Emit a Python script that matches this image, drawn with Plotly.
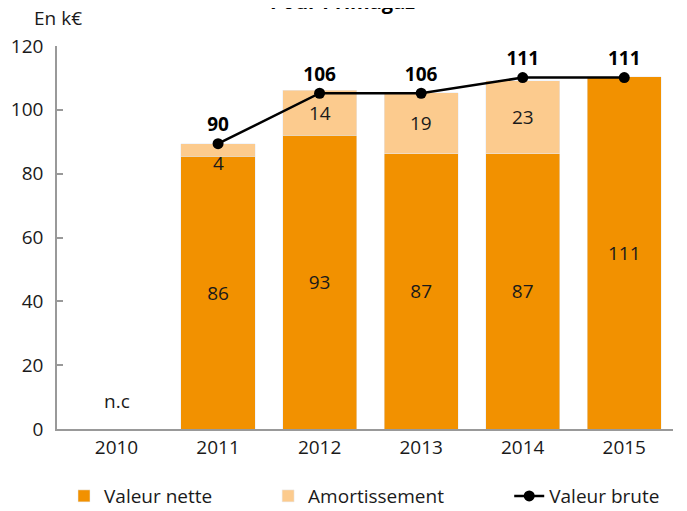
import plotly.graph_objects as go

years = ["2010", "2011", "2012", "2013", "2014", "2015"]
valeur_nette = [None, 85.4, 92.1, 86.2, 86.2, 110.4]
amortissement = [None, 3.9, 14.0, 19.2, 22.9, None]
valeur_brute = [None, 89.4, 105.2, 105.2, 110.1, 110.1]
nette_labels = ["", "86", "93", "87", "87", "111"]
amort_labels = ["", "4", "14", "19", "23", ""]
brute_labels = ["", "90", "106", "106", "111", "111"]
nc_label = "n.c"

FONT = "Open Sans"
FS = 19
ORANGE = "#F29100"
PEACH = "#FCCB8E"
TXT = "#1a1a1a"

fig = go.Figure()
fig.add_trace(go.Bar(
    x=years, y=valeur_nette, name="Valeur nette", marker_color=ORANGE,
    width=0.73, text=nette_labels, textposition="inside", insidetextanchor="middle",
    textfont=dict(family=FONT, size=FS, color=TXT), constraintext="none",
    hoverinfo="skip", legend="legend",
))
fig.add_trace(go.Bar(
    x=years, y=amortissement, name="Amortissement", marker_color=PEACH,
    width=0.73, hoverinfo="skip", legend="legend2",
))
fig.add_trace(go.Scatter(
    x=years, y=valeur_brute, name="Valeur brute", mode="lines+markers+text",
    line=dict(color="black", width=2.5), marker=dict(color="black", size=11),
    text=brute_labels, textposition="top center",
    textfont=dict(family=FONT, size=FS, color="black", weight="bold"),
    hoverinfo="skip", legend="legend3",
))

# amortissement labels, centred on their segments
for i, (n, a, lab) in enumerate(zip(valeur_nette, amortissement, amort_labels)):
    if a is None or not lab:
        continue
    shift = -13 if a < 8 else 0
    fig.add_annotation(x=i, y=n + a / 2, xref="x", yref="y", text=lab, showarrow=False,
                       yshift=shift, font=dict(family=FONT, size=FS, color=TXT))

fig.add_annotation(x=0, y=0, xref="x", yref="y", text=nc_label, showarrow=False,
                   yanchor="bottom", yshift=13, font=dict(family=FONT, size=FS, color=TXT))

fig.add_annotation(xref="paper", yref="paper", x=-0.04, y=1.073, xanchor="left",
                   yanchor="middle", text="En k€", showarrow=False,
                   font=dict(family=FONT, size=FS, color=TXT))

# partially visible title at the very top
fig.add_annotation(xref="paper", yref="paper", x=(342 - 57) / 615.7, y=1.116,
                   xanchor="center", yanchor="middle", text="<b>Pour Primagaz</b>",
                   showarrow=False, font=dict(family=FONT, size=20, color="black"))

leg = dict(orientation="h", xanchor="left", y=-0.175, yanchor="middle",
           font=dict(family=FONT, size=FS, color=TXT), itemwidth=30,
           bgcolor="rgba(0,0,0,0)")

fig.update_layout(
    width=687, height=511,
    barmode="stack",
    plot_bgcolor="white", paper_bgcolor="white",
    margin=dict(l=49, r=22, t=38, b=90, autoexpand=False),
    font=dict(family=FONT, size=FS, color=TXT),
    showlegend=True,
    legend=dict(leg, x=(64 - 57) / 615.7),
    legend2=dict(leg, x=(268 - 57) / 615.7),
    legend3=dict(leg, x=(509 - 57) / 615.7),
    xaxis=dict(type="category", range=[-0.586, 5.48], showline=True, linecolor="#999999",
               linewidth=1.5, ticks="", showgrid=False, zeroline=False,
               tickfont=dict(family=FONT, size=FS, color=TXT)),
    yaxis=dict(range=[0, 120], tickvals=[0, 20, 40, 60, 80, 100, 120], showline=True,
               linecolor="#999999", linewidth=1.5, ticks="inside", ticklen=6,
               tickcolor="#999999", tickwidth=1.5, showgrid=False, zeroline=False,
               ticklabelstandoff=8,
               tickfont=dict(family=FONT, size=FS, color=TXT)),
)

fig.write_html("out.html")
